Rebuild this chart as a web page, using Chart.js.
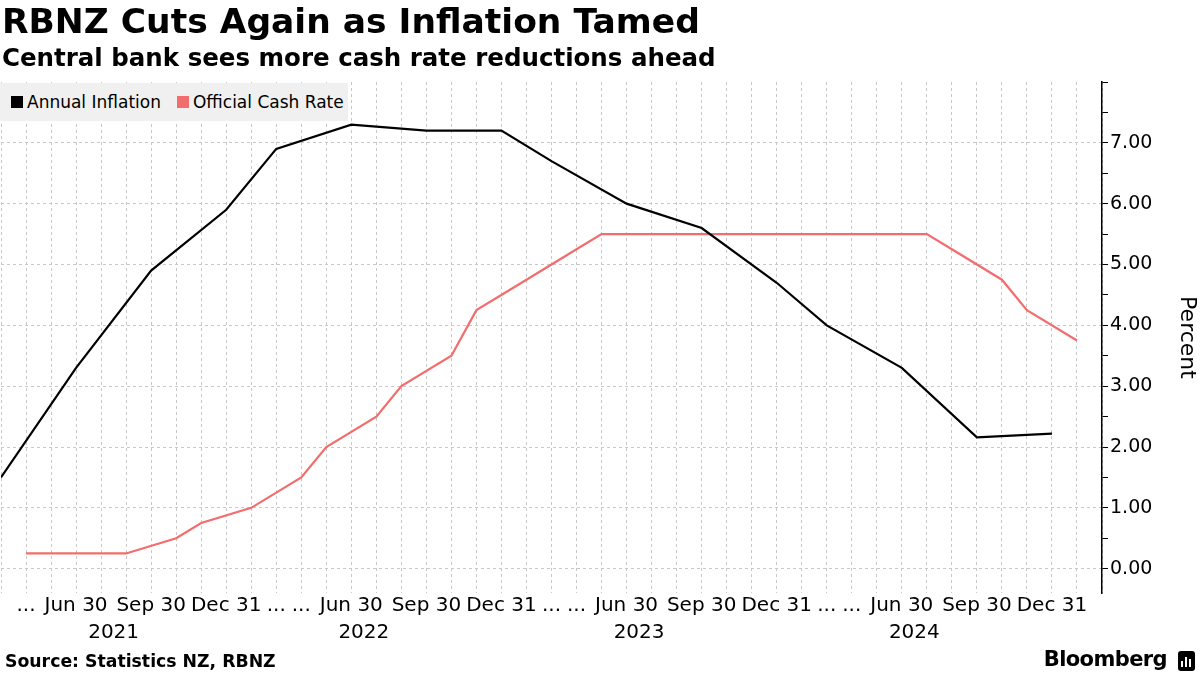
<!DOCTYPE html>
<html>
<head>
<meta charset="utf-8">
<script src="https://cdn.jsdelivr.net/npm/chart.js@4"></script>
<style>
  body { margin: 0; background: #fff; font-family: 'DejaVu Sans', sans-serif; }
  #wrap { position: relative; width: 1200px; height: 675px; overflow: hidden; }
  #chart-box { position: absolute; left: 0; top: 0; width: 1200px; height: 675px; }
  .title { position: absolute; left: 2px; top: 1px; font-size: 34.5px; font-weight: bold; color: #000; white-space: nowrap; }
  .subtitle { position: absolute; left: 2px; top: 43px; font-size: 24.5px; font-weight: bold; color: #000; white-space: nowrap; }
  .legend { position: absolute; left: 0; top: 83px; width: 348px; height: 38px; background: #f0f0f0;
    display: flex; align-items: center; font-size: 17px; color: #000; }
  .legend span.sw { display: inline-block; width: 12px; height: 12px; margin: 0 4px 0 11px; }
  .source { position: absolute; left: 5px; top: 651px; font-size: 17.3px; font-weight: bold; }
  .brand { position: absolute; right: 33px; top: 647px; font-size: 21px; font-weight: bold; letter-spacing: -0.6px; }
  .logo { position: absolute; right: 5px; top: 651px; width: 17px; height: 20px; background: #000; border-radius: 3px; }
  .logo i { position: absolute; bottom: 4px; width: 2px; background: #fff; }
</style>
</head>
<body>
<div id="wrap">
  <div id="chart-box"><canvas id="chart"></canvas></div>
  <div class="title">RBNZ Cuts Again as Inflation Tamed</div>
  <div class="subtitle">Central bank sees more cash rate reductions ahead</div>
  <div class="legend">
    <span class="sw" style="background:#000"></span>Annual Inflation
    <span class="sw" style="background:#f26d6d;margin-left:16px"></span>Official Cash Rate
  </div>
  <div class="source">Source: Statistics NZ, RBNZ</div>
  <div class="brand">Bloomberg</div>
  <div class="logo"><i style="left:3px;height:6px"></i><i style="left:7px;height:10px"></i><i style="left:11px;height:8px"></i></div>
</div>
<script>
// observation dates (CPI quarter ends + OCR decision dates)
const dates = [
  '2021-03-31', '2021-04-14', '2021-05-26', '2021-06-30', '2021-07-14', '2021-08-18', '2021-09-30', '2021-10-06',
  '2021-11-24', '2021-12-31', '2022-02-23', '2022-03-31', '2022-04-13', '2022-05-25', '2022-06-30', '2022-07-13',
  '2022-08-17', '2022-09-30', '2022-10-05', '2022-11-23', '2022-12-31', '2023-02-22', '2023-03-31', '2023-04-05',
  '2023-05-24', '2023-06-30', '2023-07-12', '2023-08-16', '2023-09-30', '2023-10-04', '2023-11-29', '2023-12-31',
  '2024-02-28', '2024-03-31', '2024-04-10', '2024-05-22', '2024-06-30', '2024-07-10', '2024-08-14', '2024-09-30',
  '2024-10-09', '2024-11-27', '2024-12-31', '2025-02-19'
];
const inflation = [
  1.5, null, null, 3.3, null, null, 4.9, null,
  null, 5.9, null, 6.9, null, null, 7.3, null,
  null, 7.2, null, null, 7.2, null, 6.7, null,
  null, 6.0, null, null, 5.6, null, null, 4.7,
  null, 4.0, null, null, 3.3, null, null, 2.16,
  null, null, 2.22, null
];
const cashRate = [
  null, 0.25, 0.25, null, 0.25, 0.25, null, 0.5,
  0.75, null, 1.0, null, 1.5, 2.0, null, 2.5,
  3.0, null, 3.5, 4.25, null, 4.75, null, 5.25,
  5.5, null, 5.5, 5.5, null, 5.5, 5.5, null,
  5.5, null, 5.5, 5.5, null, 5.5, 5.25, null,
  4.75, 4.25, null, 3.75
];
const tickLabels = [
  '', '...', '', 'Jun 30', '', '', 'Sep 30', '',
  '', 'Dec 31', '', '...', '...', '', 'Jun 30', '',
  '', 'Sep 30', '', '', 'Dec 31', '', '...', '...',
  '', 'Jun 30', '', '', 'Sep 30', '', '', 'Dec 31',
  '', '...', '...', '', 'Jun 30', '', '', 'Sep 30',
  '', '', 'Dec 31', ''
];
const years = ['2021', '2022', '2023', '2024'];
const yearPos = [4.5, 14.5, 25.5, 36.5];

const pts = arr => arr.map((v, i) => ({ x: i, y: v })).filter(p => p.y != null);

const yearRow = {
  id: 'yearRow',
  afterDraw(chart) {
    const { ctx, scales: { x } } = chart;
    ctx.save();
    ctx.font = '20px "DejaVu Sans"';
    ctx.fillStyle = '#000';
    ctx.textAlign = 'center';
    ctx.textBaseline = 'middle';
    years.forEach((y, i) => ctx.fillText(y, x.getPixelForValue(yearPos[i]), 633));
    ctx.restore();
  }
};

Chart.defaults.font.family = '"DejaVu Sans", sans-serif';
Chart.defaults.color = '#000';

new Chart(document.getElementById('chart'), {
  type: 'line',
  data: {
    datasets: [
      { label: 'Annual Inflation', data: pts(inflation), borderColor: '#000', borderWidth: 2.2, pointRadius: 0, tension: 0 },
      { label: 'Official Cash Rate', data: pts(cashRate), borderColor: '#f26d6d', borderWidth: 2.2, pointRadius: 0, tension: 0 },
    ],
  },
  options: {
    responsive: true,
    maintainAspectRatio: false,
    animation: false,
    layout: { padding: { top: 82, left: 0, right: 0, bottom: 0 } },
    plugins: { legend: { display: false }, tooltip: { enabled: false } },
    scales: {
      x: {
        type: 'linear', min: 0, max: 44,
        afterFit: s => { s.height = 82; },
        grid: { color: '#c8c8c8', lineWidth: 1, drawTicks: false },
        border: { display: false, dash: [3, 3] },
        ticks: {
          stepSize: 1, autoSkip: false, maxRotation: 0, minRotation: 0, padding: 1,
          font: { size: 20 },
          callback: v => tickLabels[v] || '',
        },
      },
      y: {
        position: 'right', min: -0.4, max: 8,
        afterFit: s => { s.width = 98; },
        grid: {
          color: c => (Number.isInteger(c.tick.value) && c.tick.value < 8) ? '#c8c8c8' : 'rgba(0,0,0,0)',
          tickColor: '#000', tickLength: 6, lineWidth: 1,
        },
        border: { display: true, color: '#000', width: 1.5, dash: [3, 3] },
        ticks: {
          stepSize: 0.5, includeBounds: false, padding: 2,
          font: { size: 19 },
          callback: v => (Number.isInteger(v) && v < 8) ? v.toFixed(2) : '',
        },
        title: { display: true, text: 'Percent', font: { size: 22 }, padding: { top: 0, bottom: 4 } },
      },
    },
  },
  plugins: [yearRow],
});
</script>
</body>
</html>
